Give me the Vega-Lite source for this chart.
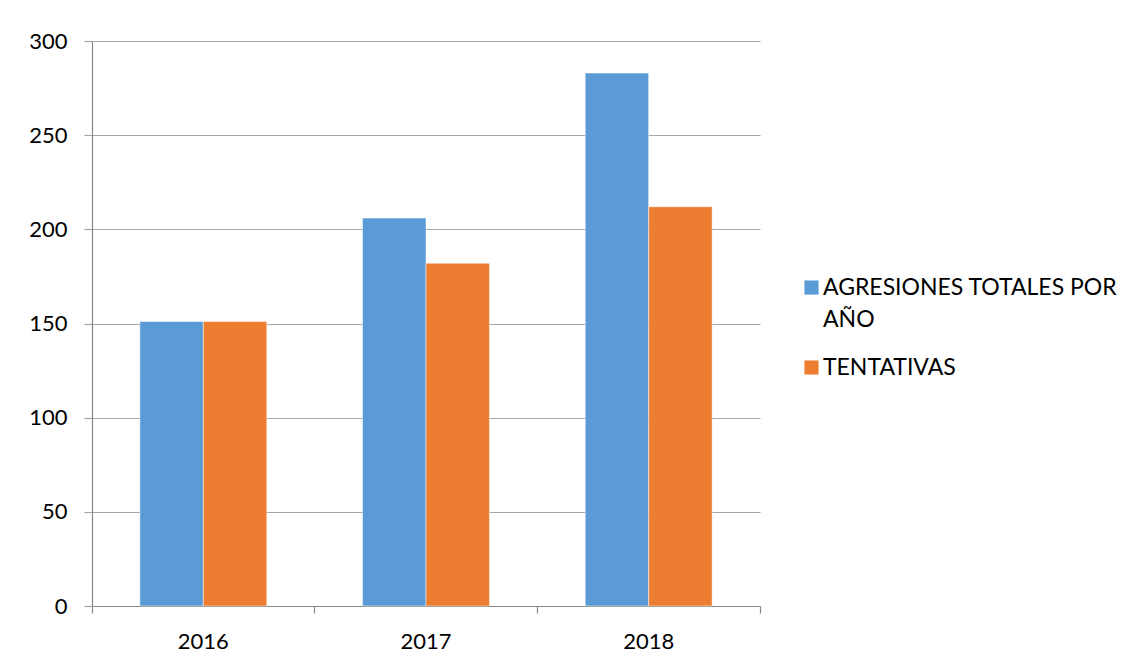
{
  "$schema": "https://vega.github.io/schema/vega-lite/v6.json",
  "autosize": {"type": "none"},
  "padding": {"left": 92, "top": 41, "right": 371, "bottom": 58},
  "width": 668,
  "height": 565,
  "background": "white",
  "data": {
    "values": [
      {"year": "2016", "series": "AGRESIONES TOTALES POR AÑO", "value": 151},
      {"year": "2016", "series": "TENTATIVAS", "value": 151},
      {"year": "2017", "series": "AGRESIONES TOTALES POR AÑO", "value": 206},
      {"year": "2017", "series": "TENTATIVAS", "value": 182},
      {"year": "2018", "series": "AGRESIONES TOTALES POR AÑO", "value": 283},
      {"year": "2018", "series": "TENTATIVAS", "value": 212}
    ]
  },
  "mark": {"type": "bar", "stroke": "white", "strokeWidth": 0.5},
  "encoding": {
    "x": {
      "field": "year",
      "type": "nominal",
      "scale": {"paddingInner": 0, "paddingOuter": 0},
      "axis": {
        "title": null,
        "labelAngle": 0,
        "bandPosition": 1,
        "tickExtra": true,
        "tickSize": 7,
        "tickColor": "#868686",
        "domainColor": "#868686",
        "labelPadding": 18,
        "grid": false
      }
    },
    "xOffset": {
      "field": "series",
      "type": "nominal",
      "scale": {"paddingInner": 0, "paddingOuter": 0.754}
    },
    "y": {
      "field": "value",
      "type": "quantitative",
      "scale": {"domain": [0, 300], "nice": false},
      "axis": {
        "title": null,
        "values": [0, 50, 100, 150, 200, 250, 300],
        "tickSize": 8,
        "tickColor": "#a6a6a6",
        "domainColor": "#868686",
        "gridColor": "#a6a6a6",
        "gridWidth": 1.2,
        "labelPadding": 17
      }
    },
    "color": {
      "field": "series",
      "type": "nominal",
      "scale": {"domain": ["AGRESIONES TOTALES POR AÑO", "TENTATIVAS"], "range": ["#5b9bd5", "#ed7d31"]},
      "legend": {
        "title": null,
        "orient": "none",
        "legendX": 708,
        "legendY": 224,
        "symbolType": "M-1,0.56H1V2.56H-1Z",
        "symbolSize": 200,
        "symbolStrokeWidth": 0,
        "labelExpr": "datum.label == 'AGRESIONES TOTALES POR AÑO' ? ['AGRESIONES TOTALES POR', 'AÑO'] : datum.label",
        "labelBaseline": "top",
        "labelOffset": 0,
        "rowPadding": 13,
        "labelLimit": 400
      }
    }
  },
  "config": {
    "view": {"stroke": null},
    "font": "Lato",
    "style": {"guide-label": {"lineHeight": 32}},
    "axis": {"labelFont": "Lato", "labelFontSize": 22, "labelColor": "#000000", "domainWidth": 1.2, "tickWidth": 1.2},
    "legend": {"labelFont": "Lato", "labelFontSize": 23, "labelColor": "#000000"}
  }
}
